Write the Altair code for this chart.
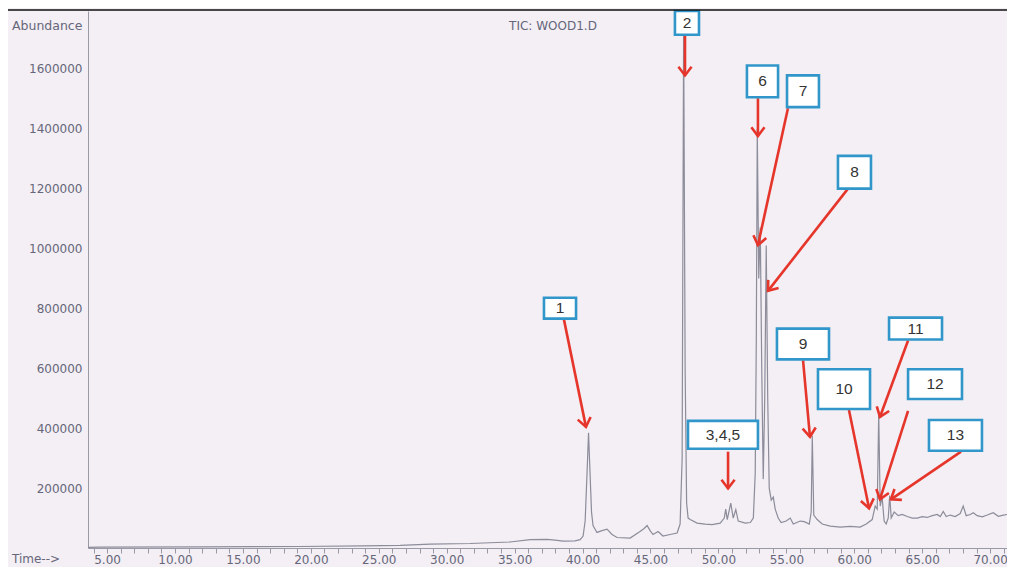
import math
import altair as alt
import pandas as pd

# ---------------- trace (retention time in minutes, abundance) ----------------
time_min = [3.60, 4.48, 11.84, 19.20, 23.84, 26.57, 28.77, 31.72, 34.66, 36.14,
            37.39, 37.98, 38.57, 39.45, 39.82, 40.04, 40.19, 40.33, 40.44, 40.55,
            40.66, 40.77, 41.06, 41.43, 41.80, 42.17, 42.54, 43.50, 44.23, 44.53,
            44.75, 44.97, 45.19, 45.56, 45.92, 46.44, 46.96, 47.18, 47.33, 47.44,
            47.55, 47.66, 47.77, 47.92, 48.43, 49.02, 49.54, 50.13, 50.43, 50.54,
            50.65, 50.91, 51.09, 51.28, 51.46, 51.98, 52.35, 52.57, 52.71, 52.79,
            52.86, 52.97, 53.08, 53.19, 53.30, 53.41, 53.52, 53.63, 53.74, 53.89,
            54.04, 54.18, 54.40, 54.62, 54.99, 55.29, 55.51, 56.02, 56.32, 56.69,
            56.83, 56.91, 57.02, 57.27, 57.64, 58.23, 58.97, 59.70, 60.43, 60.88,
            61.32, 61.54, 61.69, 61.80, 61.91, 62.05, 62.20, 62.35, 62.50, 62.61,
            62.72, 62.94, 63.24, 63.53, 63.90, 64.27, 64.64, 65.00, 65.37, 65.74,
            66.11, 66.33, 66.55, 66.77, 67.06, 67.43, 67.80, 68.02, 68.24, 68.54,
            68.76, 69.05, 69.42, 69.79, 70.23, 70.60, 70.97, 71.27, 71.56, 71.83]
abundance = [2000, 3000, 4000, 5000, 7000, 9000, 13000, 15000, 20000, 28000,
             29000, 26000, 23000, 24000, 28000, 40000, 90000, 250000, 385000, 250000,
             120000, 75000, 52000, 58000, 63000, 45000, 35000, 33000, 55000, 65000,
             75000, 58000, 45000, 55000, 40000, 45000, 50000, 80000, 300000, 1740000,
             600000, 150000, 100000, 95000, 83000, 80000, 78000, 83000, 100000, 130000,
             95000, 150000, 100000, 128000, 90000, 83000, 85000, 100000, 250000, 700000,
             1400000, 900000, 1070000, 600000, 230000, 500000, 1010000, 500000, 200000, 160000,
             170000, 130000, 100000, 85000, 90000, 100000, 80000, 90000, 88000, 80000,
             120000, 375000, 110000, 95000, 80000, 73000, 70000, 72000, 70000, 80000,
             95000, 140000, 130000, 450000, 140000, 170000, 90000, 80000, 100000, 175000,
             100000, 120000, 108000, 112000, 105000, 100000, 100000, 105000, 102000, 108000,
             112000, 105000, 122000, 105000, 110000, 105000, 115000, 140000, 108000, 112000,
             118000, 108000, 104000, 110000, 118000, 106000, 110000, 112000, 95000, 85000]

# ---------------- axis ticks ----------------
x_ticks = list(range(4, 72))
y_ticks = [200000, 400000, 600000, 800000, 1000000, 1200000, 1400000, 1600000]

# ---------------- peak annotations ----------------
labels = ["1", "2", "3,4,5", "6", "7", "8", "9", "10", "11", "12", "13"]
box_t1 = [37.16, 46.80, 47.76, 52.10, 55.05, 58.80, 54.31, 57.33, 62.56, 63.96, 65.50]
box_t2 = [39.52, 48.57, 52.91, 54.39, 57.40, 61.23, 58.14, 61.16, 66.46, 67.93, 69.40]
box_a1 = [835400, 1793000, 424300, 1611000, 1578000, 1309400, 732600, 596700, 769100, 596700, 427600]
box_a2 = [765800, 1713900, 331500, 1505000, 1471900, 1200000, 629900, 464100, 696200, 497300, 324900]
tail_t = [38.63, 47.54, 50.71, 52.91, 55.12, 59.54, 56.23, 59.61, 63.96, 63.96, 67.86]
tail_a = [762500, 1710500, 321600, 1501700, 1468500, 1200000, 626500, 460800, 692800, 457500, 321600]
tip_t = [40.25, 47.54, 50.71, 52.91, 52.91, 53.65, 56.74, 61.09, 61.89, 61.89, 62.70]
tip_a = [404400, 1577900, 198900, 1375700, 1011100, 858600, 371300, 132600, 437600, 162400, 162400]

W, H = 919, 537
PX_PER_MIN = 13.585
X_DOM = [3.595, 3.595 + W / PX_PER_MIN]
Y_DOM = [0, 1793000]
px_t = W / (X_DOM[1] - X_DOM[0])
px_a = H / (Y_DOM[1] - Y_DOM[0])

trace = pd.DataFrame({"t": time_min, "a": abundance})
ann = pd.DataFrame({"label": labels, "t1": box_t1, "t2": box_t2, "a1": box_a1, "a2": box_a2,
                    "tt": tail_t, "ta": tail_a, "pt": tip_t, "pa": tip_a})
ann["ct"] = (ann["t1"] + ann["t2"]) / 2
ann["ca"] = (ann["a1"] + ann["a2"]) / 2
ann["ang"] = [
    (math.degrees(math.atan2((p - t) * px_t, (pa - ta) * px_a)) + 360) % 360
    for t, ta, p, pa in zip(tail_t, tail_a, tip_t, tip_a)
]

TXT = "#66667a"
GREY = "#9a9aa6"
RED = "#e6352b"
BLUE = "#3196c9"
FONT = "DejaVu Sans"

xs = alt.Scale(domain=X_DOM, nice=False, zero=False)
ys = alt.Scale(domain=Y_DOM, nice=False)

line = alt.Chart(trace).mark_line(color="#8c8c9a", strokeWidth=1.2, clip=True).encode(
    x=alt.X("t:Q", scale=xs, axis=alt.Axis(
        values=x_ticks, tickCount=200, title=None, grid=False, tickSize=5, tickColor=GREY,
        domainColor=GREY, labelColor=TXT, labelFont=FONT, labelFontSize=12,
        labelPadding=1, labelFlush=False, labelOverlap=False,
        labelExpr="datum.value % 5 === 0 ? format(datum.value, '.2f') : ''")),
    y=alt.Y("a:Q", scale=ys, axis=alt.Axis(
        values=y_ticks, tickCount=50, title=None, grid=False, ticks=False, domainColor=GREY,
        labelColor=TXT, labelFont=FONT, labelFontSize=12, labelPadding=6,
        format="d", labelFlush=False, labelOverlap=False)),
)

one = pd.DataFrame({"k": [0]})
frame_v = alt.Chart(one).mark_rule(color="#111111", strokeWidth=1.5).encode(
    x=alt.value(-81), y=alt.value(-1), y2=alt.value(620))
frame_h = alt.Chart(one).mark_rule(color="#111111", strokeWidth=1.5).encode(
    x=alt.value(-81), x2=alt.value(W + 10), y=alt.value(-1))

txt_abund = alt.Chart(one).mark_text(align="left", baseline="middle", font=FONT,
                                     fontSize=12.5, color=TXT, text="Abundance").encode(
    x=alt.value(-76), y=alt.value(15))
txt_time = alt.Chart(one).mark_text(align="left", baseline="middle", font=FONT,
                                    fontSize=12, color=TXT, text="Time-->").encode(
    x=alt.value(-76), y=alt.value(H + 11))
txt_title = alt.Chart(one).mark_text(align="center", baseline="middle", font=FONT,
                                     fontSize=12, color=TXT, text="TIC: WOOD1.D").encode(
    x=alt.value(465), y=alt.value(15))

base = alt.Chart(ann)
shafts = base.mark_rule(color=RED, strokeWidth=2.6).encode(
    x=alt.X("tt:Q", scale=xs), y=alt.Y("ta:Q", scale=ys), x2="pt:Q", y2="pa:Q")
heads = base.mark_point(shape="M-0.6,0.8L0,0L0.6,0.8", filled=False, color=RED,
                        strokeWidth=2.6, size=480, opacity=1).encode(
    x=alt.X("pt:Q", scale=xs), y=alt.Y("pa:Q", scale=ys),
    angle=alt.Angle("ang:Q", scale=None))
boxes = base.mark_rect(fill="white", stroke=BLUE, strokeWidth=2.6).encode(
    x=alt.X("t1:Q", scale=xs), x2="t2:Q", y=alt.Y("a1:Q", scale=ys), y2="a2:Q")
box_txt = base.mark_text(font="Liberation Sans", fontSize=15.5, color="#333333",
                         align="center", baseline="middle").encode(
    x=alt.X("ct:Q", scale=xs), y=alt.Y("ca:Q", scale=ys), text="label:N")

chart = alt.layer(line, shafts, heads, boxes, box_txt, frame_v, frame_h,
                  txt_abund, txt_time, txt_title).properties(
    width=W, height=H,
    background="#f3eff4",
    padding={"left": 80, "top": 3, "right": 0, "bottom": 19},
    autosize=alt.AutoSizeParams(type="none"),
).configure_view(stroke=None)

chart.save("out.html", embed_options={"renderer": "svg", "actions": False})
